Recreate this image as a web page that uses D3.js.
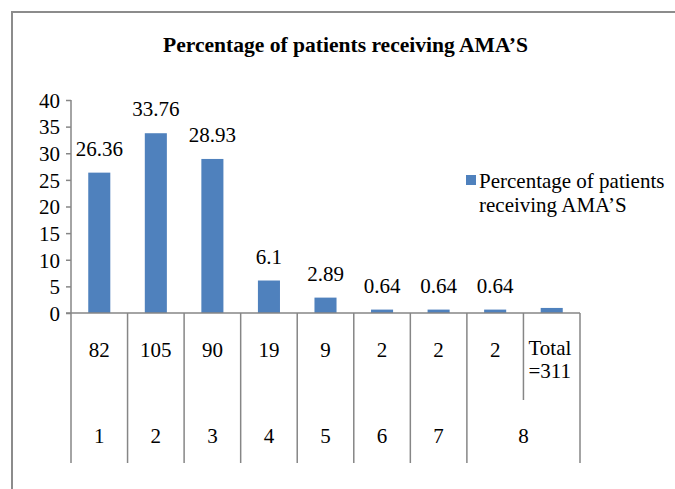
<!DOCTYPE html>
<html>
<head>
<meta charset="utf-8">
<script src="https://cdn.jsdelivr.net/npm/d3@7"></script>
<style>
  html, body { margin: 0; padding: 0; background: #fff; }
  svg { display: block; }
  svg text { font-family: "Liberation Serif", "Times New Roman", serif; fill: #000; }
</style>
</head>
<body>
<svg id="chart" width="675" height="489"></svg>
<script>
// ---- data ----
const title = "Percentage of patients receiving AMA’S";
const seriesName = "Percentage of patients receiving AMA’S";
const categories = ["82", "105", "90", "19", "9", "2", "2", "2", "Total=311"];
const values = [26.36, 33.76, 28.93, 6.1, 2.89, 0.64, 0.64, 0.64, 0.95];
const valueLabels = ["26.36", "33.76", "28.93", "6.1", "2.89", "0.64", "0.64", "0.64", ""];
const groups = ["1", "2", "3", "4", "5", "6", "7", "8"];
const groupSpans = [1, 1, 1, 1, 1, 1, 1, 2];
const yTicks = [0, 5, 10, 15, 20, 25, 30, 35, 40];

// ---- layout ----
const svg = d3.select("#chart");
const plotLeft = 71, plotRight = 580, plotTop = 100, plotBase = 313;
const row1Y = 357, row2Y = 443, axisBottom = 463, subSepBottom = 400;
const gray = "#868686";
const barColor = "#4F81BD";
const serif = "'Liberation Serif', 'Times New Roman', serif";
const fs = 21;

// frame
svg.append("line").attr("x1", 12).attr("x2", 12).attr("y1", 11).attr("y2", 489)
  .attr("stroke", "#8c8c8c").attr("stroke-width", 2);
svg.append("line").attr("x1", 11).attr("x2", 675).attr("y1", 12).attr("y2", 12)
  .attr("stroke", "#8c8c8c").attr("stroke-width", 2);

// title
svg.append("text").attr("x", 345.5).attr("y", 52).attr("text-anchor", "middle")
  .attr("font-weight", "bold").attr("font-size", 21)
  .attr("textLength", 365).attr("lengthAdjust", "spacingAndGlyphs")
  .style("font-family", serif)
  .text(title);

const x = d3.scaleBand().domain(d3.range(categories.length)).range([plotLeft, plotRight]).padding(0);
const y = d3.scaleLinear().domain([0, 40]).range([plotBase, plotTop]);
const bw = x.bandwidth();
const barW = bw * 0.39;

// y axis
const yAxis = d3.axisLeft(y).tickValues(yTicks).tickSize(5).tickPadding(6).tickFormat(d3.format("d"));
const gy = svg.append("g").attr("transform", `translate(${plotLeft},0)`).call(yAxis)
  .attr("font-family", null).attr("font-size", null);
gy.select(".domain").remove();
gy.selectAll(".tick line").attr("stroke", gray).attr("stroke-width", 1.5);
gy.selectAll(".tick text").attr("font-size", fs).style("font-family", serif)
  .attr("fill", "#000").attr("dy", "0.35em");
svg.append("line").attr("x1", plotLeft).attr("x2", plotLeft).attr("y1", plotTop).attr("y2", plotBase)
  .attr("stroke", gray).attr("stroke-width", 1.5);

// bars
svg.append("g").selectAll("rect").data(values).join("rect")
  .attr("x", (d, i) => x(i) + (bw - barW) / 2)
  .attr("width", barW)
  .attr("y", d => y(d))
  .attr("height", d => plotBase - y(d))
  .attr("fill", barColor);

// value labels
svg.append("g").selectAll("text").data(valueLabels).join("text")
  .attr("x", (d, i) => x(i) + bw / 2)
  .attr("y", (d, i) => y(values[i]) - 17)
  .attr("text-anchor", "middle").attr("font-size", fs)
  .style("font-family", serif)
  .text(d => d);

// category axis line
svg.append("line").attr("x1", plotLeft - 5).attr("x2", plotRight).attr("y1", plotBase).attr("y2", plotBase)
  .attr("stroke", gray).attr("stroke-width", 1.5);

// separators
const boundaries = d3.range(categories.length + 1);
const groupEnds = new Set([0]);
let acc = 0;
groupSpans.forEach(s => { acc += s; groupEnds.add(acc); });
svg.append("g").selectAll("line").data(boundaries).join("line")
  .attr("x1", i => i < categories.length ? x(i) : plotRight)
  .attr("x2", i => i < categories.length ? x(i) : plotRight)
  .attr("y1", plotBase)
  .attr("y2", i => groupEnds.has(i) ? axisBottom : subSepBottom)
  .attr("stroke", gray).attr("stroke-width", 1.5);

// level-1 labels
categories.forEach((c, i) => {
  if (c.startsWith("Total")) {
    const t = svg.append("text").attr("font-size", fs).style("font-family", serif);
    t.append("tspan").attr("x", x(i) + 5).attr("y", 355).text("Total");
    t.append("tspan").attr("x", x(i) + 5).attr("y", 378).text(c.slice(5));
  } else {
    svg.append("text").attr("x", x(i) + bw / 2).attr("y", row1Y)
      .attr("text-anchor", "middle").attr("font-size", fs).style("font-family", serif).text(c);
  }
});

// level-2 labels
let start = 0;
groups.forEach((g, k) => {
  const span = groupSpans[k];
  const cx = x(start) + (span * bw) / 2;
  svg.append("text").attr("x", cx).attr("y", row2Y)
    .attr("text-anchor", "middle").attr("font-size", fs).style("font-family", serif).text(g);
  start += span;
});

// legend
svg.append("rect").attr("x", 466).attr("y", 175).attr("width", 10).attr("height", 10).attr("fill", barColor);
const words = seriesName.split(" ");
svg.append("text").attr("x", 479).attr("y", 188).attr("font-size", fs).style("font-family", serif)
  .text(words.slice(0, 3).join(" "));
svg.append("text").attr("x", 479).attr("y", 212).attr("font-size", fs).style("font-family", serif)
  .text(words.slice(3).join(" "));
</script>
</body>
</html>
